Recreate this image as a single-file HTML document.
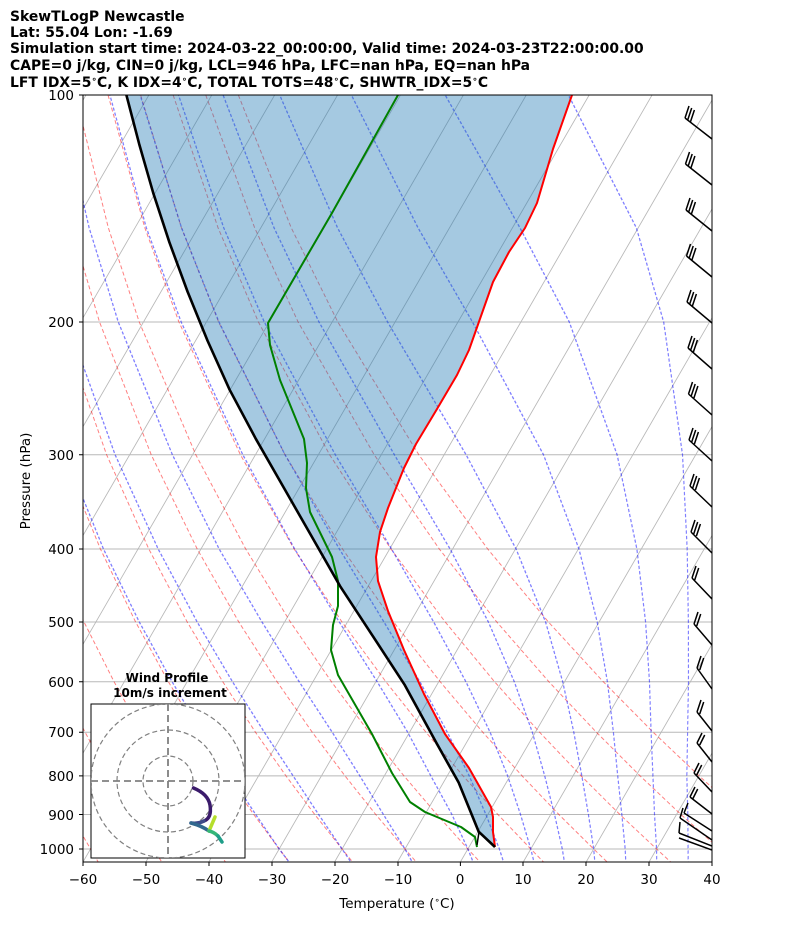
<!DOCTYPE html>
<html><head><meta charset="utf-8"><style>
body{margin:0;background:#fff;}
svg{display:block;font-family:"DejaVu Sans","Liberation Sans",sans-serif;}
</style></head><body>
<svg width="794" height="937" viewBox="0 0 794 937" xmlns="http://www.w3.org/2000/svg">
<defs><clipPath id="c"><rect x="83" y="95" width="629" height="767"/></clipPath>
<clipPath id="ci"><rect x="91" y="704" width="154" height="154"/></clipPath></defs>
<rect width="794" height="937" fill="#fff"/>
<g clip-path="url(#c)">
 <g transform="matrix(1,0,-0.578,1,498.2,0)" stroke="#b8b8b8" stroke-width="1" fill="none">
  <path d="M-420.2,80V880M-357.3,80V880M-294.4,80V880M-231.5,80V880M-168.6,80V880M-105.7,80V880M-42.8,80V880M20.1,80V880M83,80V880M145.9,80V880M208.8,80V880M271.7,80V880M334.6,80V880M397.5,80V880M460.4,80V880M523.3,80V880M586.2,80V880M649.1,80V880M712,80V880"/>
 </g>
 <path d="M83,95H712M83,322H712M83,454.8H712M83,549H712M83,622H712M83,681.7H712M83,732.2H712M83,775.9H712M83,814.5H712M83,849H712" stroke="#b8b8b8" stroke-width="1"/>
 <g transform="matrix(1,0,0.022,1,-18.96,0)" stroke="#ff0000" stroke-opacity="0.5" stroke-width="1" fill="none" stroke-dasharray="4,2.5">
  <path d="M-103.2,95L-97.3,227.8L-87.2,322L-62.8,454.8L-37.9,549L-13.9,622L9.2,681.7L31.1,732.2L51.9,775.9L71.7,814.5L90.8,849L99.9,865"/>
  <path d="M-70.6,95L-60.7,227.8L-47.5,322L-18.2,454.8L10.5,549L37.7,622L63.6,681.7L87.9,732.2L110.9,775.9L132.7,814.5L153.7,849L163.7,865"/>
  <path d="M-38,95L-24.1,227.8L-7.8,322L26.4,454.8L58.9,549L89.3,622L118,681.7L144.7,732.2L169.9,775.9L193.7,814.5L216.6,849L227.5,865"/>
  <path d="M-5.4,95L12.5,227.8L31.9,322L71,454.8L107.3,549L140.9,622L172.3,681.7L201.5,732.2L228.9,775.9L254.8,814.5L279.5,849L291.3,865"/>
  <path d="M27.1,95L49.1,227.8L71.7,322L115.6,454.8L155.7,549L192.5,622L226.7,681.7L258.3,732.2L287.9,775.9L315.8,814.5L342.4,849L355,865"/>
  <path d="M59.7,95L85.7,227.8L111.4,322L160.2,454.8L204.1,549L244.1,622L281,681.7L315.1,732.2L346.9,775.9L376.8,814.5L405.3,849L418.8,865"/>
  <path d="M92.3,95L122.3,227.8L151.1,322L204.8,454.8L252.6,549L295.7,622L335.4,681.7L371.9,732.2L405.9,775.9L437.9,814.5L468.2,849L482.6,865"/>
  <path d="M124.9,95L158.8,227.8L190.8,322L249.4,454.8L301,549L347.3,622L389.8,681.7L428.8,732.2L465,775.9L498.9,814.5L531.1,849L546.4,865"/>
  <path d="M157.5,95L195.4,227.8L230.5,322L294,454.8L349.4,549L398.9,622L444.1,681.7L485.6,732.2L524,775.9L559.9,814.5L594,849L610.2,865"/>
  <path d="M190,95L232,227.8L270.3,322L338.6,454.8L397.8,549L450.5,622L498.5,681.7L542.4,732.2L583,775.9L620.9,814.5L656.9,849L673.9,865"/>
  <path d="M222.6,95L268.6,227.8L310,322L383.2,454.8L446.2,549L502.1,622L552.8,681.7L599.2,732.2L642,775.9L682,814.5L719.8,849L737.7,865"/>
  <path d="M255.2,95L305.2,227.8L349.7,322L427.8,454.8L494.6,549L553.7,622L607.2,681.7L656,732.2L701,775.9L743,814.5"/>
 </g>
 <g transform="matrix(1,0,-0.578,1,498.2,0)" stroke="#0000ff" stroke-opacity="0.5" stroke-width="1" fill="none" stroke-dasharray="4,2.5">
  <path d="M690,865L680.6,849L660.4,814.5L637.1,775.9L612.6,732.2L584.3,681.7L549.7,622L506.3,549L447.2,454.8L351.6,322L269.8,227.8L125.1,95"/>
  <path d="M658.5,865L649.1,849L627.1,814.5L603.2,775.9L576.1,732.2L545.3,681.7L506.9,622L456,549L381.8,454.8L257.2,322L153.4,227.8L1.9,95"/>
  <path d="M627.7,865L617.7,849L594.4,814.5L568,775.9L538.4,732.2L503.2,681.7L458.5,622L398.1,549L308.2,454.8L160.4,322L51.5,227.8L-91.9,95"/>
  <path d="M596.9,865L586.2,849L561,814.5L532.1,775.9L498.8,732.2L458.5,681.7L406.9,622L335.2,549L230.8,454.8L75.5,322L-29,227.8L-163.6,95"/>
  <path d="M566.7,865L554.8,849L527.1,814.5L495,775.9L457.3,732.2L410.1,681.7L349.7,622L269.2,549L159.1,454.8L6.9,322L-92.5,227.8L-220.2,95"/>
  <path d="M536.5,865L523.3,849L493.1,814.5L457.9,775.9L415.1,732.2L361.7,681.7L295,622L210.7,549L100,454.8L-47.8,322L-142.8,227.8L-264.8,95"/>
  <path d="M506.3,865L491.9,849L458.5,814.5L419.5,775.9L372.3,732.2L315.7,681.7L245.3,622L158.5,549L49.7,454.8L-93.1,322L-185,227.8L-303.2,95"/>
  <path d="M476.1,865L460.4,849L424.5,814.5L381.1,775.9L332.7,732.2L273,681.7L200.6,622L113.8,549L7.5,454.8L-130.9,322L-220.2,227.8L-333.4,95"/>
  <path d="M415.7,865L397.5,849L356,814.5L310.1,775.9L257.2,732.2L195,681.7L123.3,622L38.3,549L-62.9,454.8L-193.8,322L-277.4,227.8L-384.3,95"/>
  <path d="M354.7,865L334.6,849L291.2,814.5L243.4,775.9L189.3,732.2L128.3,681.7L58.5,622L-22.7,549L-120.2,454.8L-244.7,322L-324.6,227.8L-426.5,95"/>
  <path d="M293.1,865L271.7,849L228.3,814.5L180.5,775.9L127,732.2L67.9,681.7L0.6,622L-77.4,549L-169.9,454.8L-289.4,322L-365.5,227.8L-463,95"/>
 </g>
 <path d="M126.4,95L139.2,144.1L153.3,193.2L169.4,242.3L187.5,291.5L207.5,340.6L229.6,389.7L255.8,438.8L283.9,487.9L312,537L340.1,586.2L372.3,635.3L404.4,684.4L436.6,743.3L458.7,782.6L478.7,831.7L495,847L493,832L493,817L491,807L469,768L445,734L424,694L404,650L388,611L378,581L376,557L380,532L388,508L404,468L416,444L437,409L457,375L469,350L481,316L493,282L509,252L525,228L537,203L553,149L572,95Z" fill="#1f77b4" fill-opacity="0.4"/>
 <path d="M572,95L553,149L537,203L525,228L509,252L493,282L481,316L469,350L457,375L437,409L416,444L404,468L388,508L380,532L376,557L378,581L388,611L404,650L424,694L445,734L469,768L491,807L493,817L493,832L495,847" fill="none" stroke="#ff0000" stroke-width="2" stroke-linejoin="round"/>
 <path d="M398,95L332,213L268,323L270,345L280,380L304,439L307,463L306,488L310,512L332,557L338,581L338,606L333,625L331,650L338,675L372,734L392,773L410,802L425,812L461,827L475,837L477,847" fill="none" stroke="#008000" stroke-width="2" stroke-linejoin="round"/>
 <path d="M126.4,95L139.2,144.1L153.3,193.2L169.4,242.3L187.5,291.5L207.5,340.6L229.6,389.7L255.8,438.8L283.9,487.9L312,537L340.1,586.2L372.3,635.3L404.4,684.4L436.6,743.3L458.7,782.6L478.7,831.7L495,847" fill="none" stroke="#000" stroke-width="2.6" stroke-linejoin="round"/>
 <path d="M479,832L477,845" stroke="#000" stroke-width="1.5"/>
 <g stroke="#000" stroke-width="1.5" fill="none">
  <path d="M712,139L685,118M685,118L689,106M687.7,120L691.7,108M690.4,122L694.4,110"/>
  <path d="M712,185L685.5,164M685.5,164L689.5,152M688.2,166L692.2,154M690.9,168L694.9,156"/>
  <path d="M712,231L686,210M686,210L690,198M688.7,212L692.7,200M691.4,214L695.4,202"/>
  <path d="M712,277L686.5,256M686.5,256L690.5,244M689.2,258L693.2,246M691.9,260L695.9,248"/>
  <path d="M712,323L687,302M687,302L691,290M689.7,304L693.7,292M692.4,306L696.4,294"/>
  <path d="M712,369L688,348M688,348L692,336M690.7,350L694.7,338M693.4,352L697.4,340"/>
  <path d="M712,415L688.5,394M688.5,394L692.5,382M691.2,396L695.2,384M693.9,398L697.9,386"/>
  <path d="M712,461L689,440M689,440L693,428M691.7,442L695.7,430M694.4,444L698.4,432"/>
  <path d="M712,507L690,486M690,486L694,474M692.7,488L696.7,476M695.4,490L699.4,478"/>
  <path d="M712,553L691,532M691,532L695,520M693.7,534L697.7,522M696.4,536L700.4,524"/>
  <path d="M712,599L692,578M692,578L696,566M694.7,580L698.7,568"/>
  <path d="M712,645L694,624M694,624L698,612M696.7,626L700.7,614"/>
  <path d="M712,689L697,668M697,668L701,656M699.7,670L703.7,658"/>
  <path d="M712,731L697,712M697,712L701,700M699.7,714L703.7,702"/>
  <path d="M712,762L697,743M697,743L702,733M699.7,745L704.7,735"/>
  <path d="M712,792L694,773M694,773L699,763M696.7,775L701.7,765"/>
  <path d="M712,814L690,797M690,797L695,787M692.7,799L697.7,789"/>
  <path d="M712,831L684,813M684,813L688,803"/>
  <path d="M712,840L680,818M680,818L683,808"/>
  <path d="M712,846L679,833M679,833L680,822"/>
  <path d="M712,850L679,838"/>
 </g>
</g>
<rect x="83" y="95" width="629" height="767" fill="none" stroke="#000" stroke-width="1"/>
<g stroke="#000" stroke-width="1">
 <path d="M83,862v4M146,862v4M209,862v4M272,862v4M335,862v4M398,862v4M460.4,862v4M523,862v4M586,862v4M649,862v4M712,862v4"/>
 <path d="M79,95h4M79,322h4M79,454.8h4M79,549h4M79,622h4M79,681.7h4M79,732.2h4M79,775.9h4M79,814.5h4M79,849h4"/>
</g>
<g font-size="13.9" font-weight="bold" fill="#000">
<text x="10" y="21">SkewTLogP Newcastle</text>
<text x="10" y="37">Lat: 55.04   Lon: -1.69</text>
<text x="10" y="53">Simulation start time: 2024-03-22_00:00:00, Valid time: 2024-03-23T22:00:00.00</text>
<text x="10" y="70">CAPE=0 j/kg, CIN=0 j/kg, LCL=946 hPa, LFC=nan hPa, EQ=nan hPa</text>
<text x="10" y="87">LFT IDX=5<tspan font-size="9" dy="-5">∘</tspan><tspan dy="5">C, K IDX=4</tspan><tspan font-size="9" dy="-5">∘</tspan><tspan dy="5">C, TOTAL TOTS=48</tspan><tspan font-size="9" dy="-5">∘</tspan><tspan dy="5">C, SHWTR_IDX=5</tspan><tspan font-size="9" dy="-5">∘</tspan><tspan dy="5">C</tspan></text>
</g>
<g font-size="13.5" fill="#000" text-anchor="middle">
<text x="83" y="884">−60</text><text x="146" y="884">−50</text><text x="209" y="884">−40</text><text x="272" y="884">−30</text><text x="335" y="884">−20</text><text x="398" y="884">−10</text><text x="460" y="884">0</text><text x="523" y="884">10</text><text x="586" y="884">20</text><text x="649" y="884">30</text><text x="712" y="884">40</text>
<text x="397" y="908">Temperature (<tspan font-size="9" dy="-5">∘</tspan><tspan dy="5">C)</tspan></text>
</g>
<g font-size="13.5" fill="#000" text-anchor="end">
<text x="74" y="100">100</text><text x="74" y="327">200</text><text x="74" y="460">300</text><text x="74" y="554">400</text><text x="74" y="627">500</text><text x="74" y="687">600</text><text x="74" y="737">700</text><text x="74" y="781">800</text><text x="74" y="820">900</text><text x="74" y="854">1000</text>
</g>
<text x="30" y="481" font-size="13.5" text-anchor="middle" transform="rotate(-90 30 481)">Pressure (hPa)</text>
<rect x="91" y="704" width="154" height="154" fill="#fff" stroke="#000"/>
<g clip-path="url(#ci)" fill="none" stroke="#808080" stroke-width="1.2" stroke-dasharray="5,3">
<circle cx="168" cy="781" r="25"/><circle cx="168" cy="781" r="51"/><circle cx="168" cy="781" r="77"/>
<line x1="91" y1="781" x2="245" y2="781" stroke-width="1.8" stroke-dasharray="7,4"/><line x1="168" y1="704" x2="168" y2="858" stroke-width="1.8" stroke-dasharray="7,4"/>
</g>
<g fill="none" stroke-width="3.5" stroke-linecap="round">
<path d="M193.5,788 Q208,794 210,805 Q212,818 204,821" stroke="#3b1b6b"/>
<path d="M204,821 Q198,824 191,823" stroke="#3e4a89"/>
<path d="M191,823 Q202,826 209,831" stroke="#31688e"/>
<path d="M209,831 L215,817" stroke="#b5de2b"/>
<path d="M209,831 Q214,832 218,836" stroke="#35b779"/>
<path d="M218,836 L222,842" stroke="#1f9e89"/>
</g>
<text x="167" y="682" font-size="12" font-weight="bold" text-anchor="middle">Wind Profile</text>
<text x="170" y="697" font-size="12" font-weight="bold" text-anchor="middle">10m/s increment</text>
</svg>
</body></html>
